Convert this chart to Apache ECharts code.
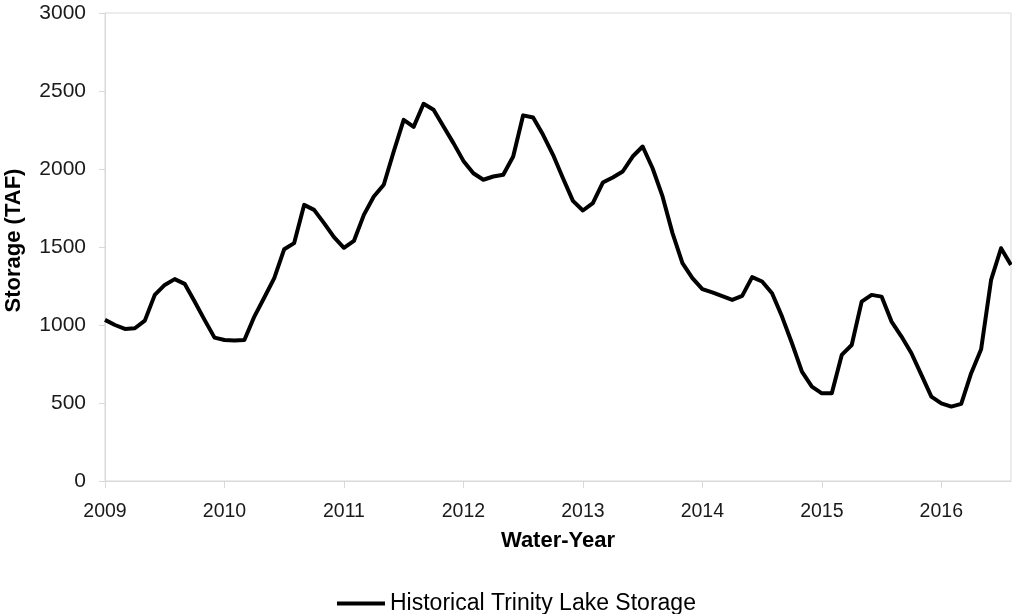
<!DOCTYPE html>
<html>
<head>
<meta charset="utf-8">
<script src="https://cdn.jsdelivr.net/npm/echarts@6/dist/echarts.min.js"></script>
<style>
html,body{margin:0;padding:0;background:#fff;}
#chart{width:1012px;height:614px;}
</style>
</head>
<body>
<div id="chart"></div>
<script>
// Monthly storage (TAF), starting Oct 2008 (start of water-year 2009)
var storage = [
  1033, 1000, 975, 979, 1028, 1193, 1257, 1294, 1264, 1150, 1033, 919,
  904, 900, 904, 1054, 1176, 1300, 1486, 1525, 1770, 1738, 1653, 1563,
  1495, 1539, 1706, 1824, 1899, 2112, 2315, 2270, 2418, 2380, 2272, 2166,
  2052, 1973, 1931, 1952, 1963, 2080, 2344, 2330, 2219, 2091, 1941, 1796,
  1734, 1781, 1913, 1946, 1984, 2080, 2144, 2005, 1824, 1589, 1396, 1300,
  1230, 1209, 1185, 1161, 1187, 1307, 1279, 1204, 1054, 883, 701, 605,
  562, 562, 808, 872, 1150, 1193, 1182, 1022, 926, 819, 680, 541,
  498, 477, 494, 691, 845, 1289, 1492, 1385
];
var yearLabels = ['2009', '2010', '2011', '2012', '2013', '2014', '2015', '2016'];
var monthNames = ['Oct','Nov','Dec','Jan','Feb','Mar','Apr','May','Jun','Jul','Aug','Sep'];
var categories = [];
for (var i = 0; i < storage.length; i++) {
  var wy = 2009 + Math.floor(i / 12);
  var m = i % 12;
  var calYear = m < 3 ? wy - 1 : wy;
  categories.push(monthNames[m] + ' ' + calYear);
}
var seriesName = 'Historical Trinity Lake Storage';

var chart = echarts.init(document.getElementById('chart'), null, {renderer: 'canvas'});
var gray = '#d9d9d9';
var font = '"Liberation Sans", Arial, sans-serif';
chart.setOption({
  animation: false,
  backgroundColor: '#fff',
  grid: {
    left: 105, right: 1, top: 13, bottom: 133,
    containLabel: false,
    outerBoundsMode: 'none',
    show: true, borderColor: gray, borderWidth: 1, backgroundColor: 'transparent'
  },
  legend: {
    data: [{name: seriesName, icon: 'rect'}],
    left: 337, top: 592, padding: 0,
    itemWidth: 48, itemHeight: 4,
    textStyle: {fontFamily: font, fontSize: 23, color: '#000'}
  },
  xAxis: {
    type: 'category',
    data: categories,
    boundaryGap: false,
    name: 'Water-Year',
    nameLocation: 'middle',
    nameGap: 49,
    nameTextStyle: {fontFamily: font, fontSize: 22, fontWeight: 'bold', color: '#000'},
    axisLine: {lineStyle: {color: gray, width: 1}},
    axisTick: {show: true, interval: 11, length: 7, lineStyle: {color: gray}},
    axisLabel: {
      interval: 11, margin: 21,
      fontFamily: font, fontSize: 19.5, color: '#1a1a1a',
      formatter: function (v, idx) { return yearLabels[Math.round(idx / 12)] || ''; }
    },
    splitLine: {show: false}
  },
  yAxis: {
    type: 'value',
    min: 0, max: 3000, interval: 500,
    name: 'Storage (TAF)',
    nameLocation: 'middle',
    nameGap: 80,
    nameTextStyle: {fontFamily: font, fontSize: 22, fontWeight: 'bold', color: '#000', padding: [0, 0, 0, 13]},
    axisLine: {show: true, lineStyle: {color: gray, width: 1}},
    axisTick: {show: true, length: 6, lineStyle: {color: gray}},
    axisLabel: {
      margin: 19, fontFamily: font, fontSize: 21, color: '#1a1a1a',
      formatter: function (v) { return String(v); }
    },
    splitLine: {show: false}
  },
  series: [{
    name: seriesName,
    type: 'line',
    data: storage,
    showSymbol: false,
    symbol: 'none',
    lineStyle: {color: '#000', width: 4, join: 'round'},
    itemStyle: {color: '#000'}
  }]
});
</script>
</body>
</html>
